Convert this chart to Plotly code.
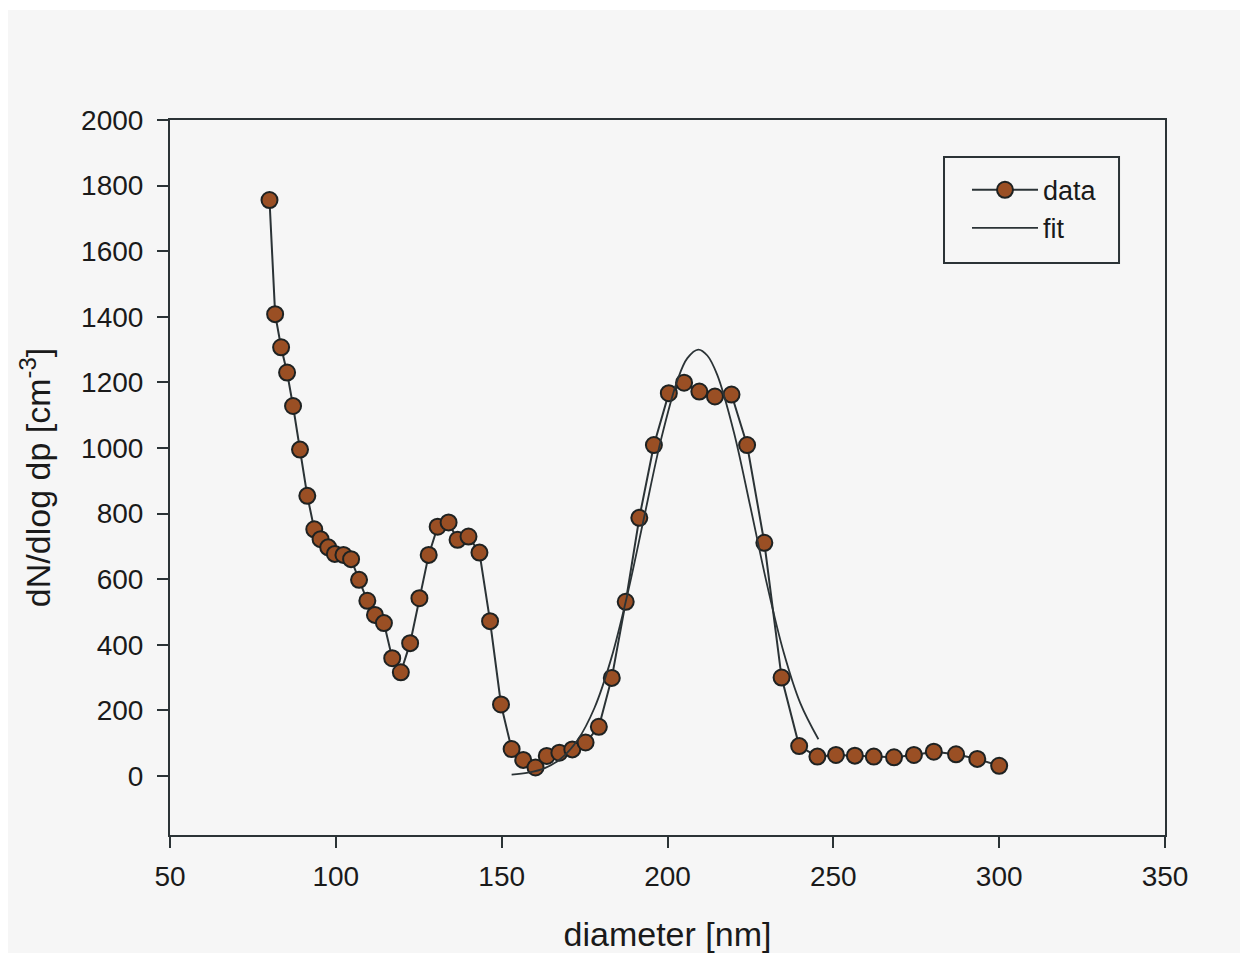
import plotly.graph_objects as go

# measured size distribution (data)
diameter = [80, 81.7, 83.5, 85.3, 87.1, 89.2, 91.4, 93.5, 95.4, 97.7,
            99.7, 102.3, 104.6, 107, 109.5, 111.8, 114.5, 117, 119.6, 122.4,
            125.2, 128, 130.7, 134, 136.7, 140, 143.3, 146.5, 149.8, 153,
            156.5, 160.2, 163.6, 167.4, 171.3, 175.3, 179.3, 183.2, 187.4, 191.5,
            195.9, 200.4, 205, 209.6, 214.3, 219.3, 224, 229.2, 234.4, 239.7,
            245.2, 250.8, 256.5, 262.2, 268.3, 274.3, 280.3, 287, 293.4, 300]
dNdlogdp = [1756, 1408, 1307, 1230, 1128, 995, 854, 752, 722, 697,
            677, 674, 661, 598, 534, 491, 466, 359, 316, 405,
            542, 674, 760, 773, 720, 730, 681, 472, 218, 82,
            49, 26, 61, 71, 81, 102, 150, 299, 531, 787,
            1009, 1167, 1199, 1172, 1157, 1163, 1009, 711, 300, 91,
            59, 64, 62, 59, 57, 64, 74, 66, 52, 31]

# fit curve
fit_x = [153, 158, 163, 168, 173, 178, 183, 188, 193, 198, 203, 206,
         209.3, 212, 215, 220, 225, 230, 235, 240, 245.5]
fit_y = [4, 10, 24, 54, 111, 208, 357, 557, 791, 1024, 1207, 1274,
         1300, 1282, 1223, 1049, 820, 584, 378, 223, 112]

x_ticks = [50, 100, 150, 200, 250, 300, 350]
y_ticks = [0, 200, 400, 600, 800, 1000, 1200, 1400, 1600, 1800, 2000]

LINE = "#2b3336"
FILL = "#9a4f24"
FONT = "Liberation Sans, Arial, sans-serif"

fig = go.Figure()
fig.add_trace(go.Scatter(
    x=diameter, y=dNdlogdp, name="data", mode="lines+markers",
    line=dict(color=LINE, width=2),
    marker=dict(size=16, color=FILL, line=dict(color="#1e2222", width=2)),
))
fig.add_trace(go.Scatter(
    x=fit_x, y=fit_y, name="fit", mode="lines",
    line=dict(color=LINE, width=1.8, shape="spline", smoothing=1.0),
))

# thin white strip at the very top
fig.add_shape(type="rect", xref="paper", yref="paper",
              x0=-0.3, x1=1.3, y0=1.1538, y1=1.25,
              fillcolor="white", line=dict(width=0), layer="below")
# legend frame
fig.add_shape(type="rect", xref="paper", yref="paper",
              x0=0.7779, x1=0.9538, y0=0.80, y1=0.9483,
              fillcolor="rgba(0,0,0,0)", line=dict(color=LINE, width=2))

fig.update_layout(
    width=1260, height=953,
    margin=dict(l=162, r=103, t=112, b=126),
    paper_bgcolor="#f6f6f6",
    plot_bgcolor="rgba(0,0,0,0)",
    font=dict(family=FONT, size=28, color="#1a1a1a"),
    showlegend=True,
    legend=dict(x=0.801, y=0.936, xanchor="left", yanchor="top",
                bgcolor="rgba(0,0,0,0)", borderwidth=0,
                font=dict(size=27), itemwidth=66, tracegroupgap=0),
)
fig.update_xaxes(
    range=[50, 350], tickvals=x_ticks, ticks="outside", ticklen=11,
    tickwidth=1.5, tickcolor=LINE, ticklabelstandoff=4,
    showline=True, linecolor=LINE, linewidth=2, mirror=True,
    showgrid=False, zeroline=False,
    title=dict(text="diameter [nm]", font=dict(size=34), standoff=32),
)
fig.update_yaxes(
    range=[-180, 2000], tickvals=y_ticks, ticks="outside", ticklen=11,
    tickwidth=1.5, tickcolor=LINE, ticklabelstandoff=8,
    showline=True, linecolor=LINE, linewidth=2, mirror=True,
    showgrid=False, zeroline=False,
    title=dict(text="dN/dlog dp [cm<sup>-3</sup>]", font=dict(size=34), standoff=20),
)

fig.write_html("out.html")
